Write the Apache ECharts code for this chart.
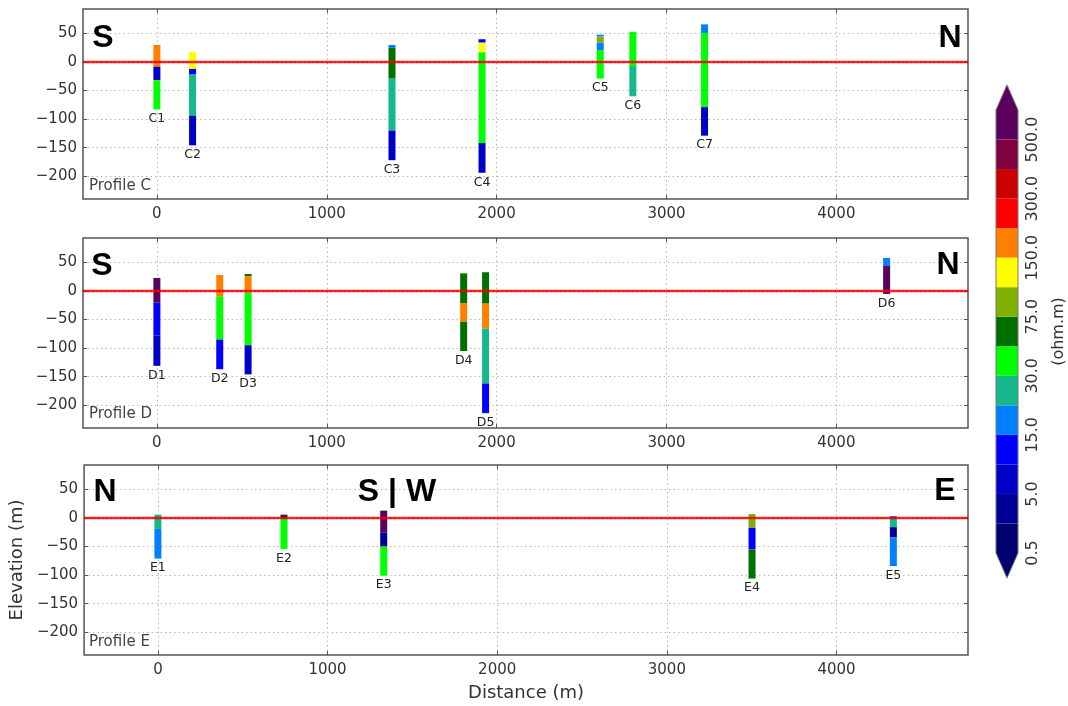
<!DOCTYPE html>
<html><head><meta charset="utf-8">
<script src="https://cdn.jsdelivr.net/npm/echarts@6/dist/echarts.min.js"></script>
<style>html,body{margin:0;padding:0;background:#fff}#chart{width:1068px;height:706px}</style>
</head><body><div id="chart"></div>
<script>
// ---------- data ----------
const xLimits = [-435, 4775];
const yLimits = [-240, 93];
const xTicks = [0, 1000, 2000, 3000, 4000];
const yTicks = [-200, -150, -100, -50, 0, 50];
const colorbarTickIndex = [0, 2, 4, 6, 8, 10, 12, 14];
const colorbarTickLabels = ['0.5', '5.0', '15.0', '30.0', '75.0', '150.0', '300.0', '500.0'];
// resistivity classes, low -> high
const classColors = ['#00006e', '#000098', '#0000c8', '#0000ff', '#0080ff', '#14b88a', '#00ff00',
  '#007000', '#80b000', '#ffff00', '#ff8000', '#ff0000', '#cc0000', '#800040', '#5a005f'];

const profileC_names = ['C1', 'C2', 'C3', 'C4', 'C5', 'C6', 'C7'];
const profileC_dist = [0, 210, 1384, 1914, 2610, 2802, 3224];
const profileC_bounds = [
  [30, -8, -32, -83],
  [18, -12, -22, -94, -146],
  [30, 25, -29, -120, -172],
  [40, 34, 17, -142, -194],
  [48, 45, 34, 21, -29],
  [53, -7, -60],
  [66, 51, -79, -129]
];
const profileC_classes = [
  [10, 2, 6],
  [9, 3, 5, 2],
  [4, 7, 5, 2],
  [3, 9, 6, 2],
  [4, 8, 4, 6],
  [6, 5],
  [4, 6, 2]
];

const profileD_names = ['D1', 'D2', 'D3', 'D4', 'D5', 'D6'];
const profileD_dist = [0, 370, 537, 1806, 1935, 4296];
const profileD_bounds = [
  [23, -20, -78, -131],
  [28, -10, -85, -137],
  [30, 26, -3, -95, -146],
  [31, -21, -54, -105],
  [33, -22, -66, -162, -214],
  [58, 44, -5]
];
const profileD_classes = [
  [14, 3, 2],
  [10, 6, 3],
  [7, 10, 6, 2],
  [7, 10, 7],
  [7, 10, 5, 3],
  [4, 14]
];

const profileE_names = ['E1', 'E2', 'E3', 'E4', 'E5'];
const profileE_dist = [0, 743, 1331, 3502, 4335];
const profileE_bounds = [
  [6, -19, -71],
  [6, -1, -54],
  [13, -25, -50, -101],
  [7, -17, -55, -106],
  [3, 0, -16, -34, -84]
];
const profileE_classes = [
  [5, 4],
  [14, 6],
  [14, 1, 6],
  [8, 3, 7],
  [3, 5, 1, 4]
];

// ---------- chart ----------
const FONT = '"DejaVu Sans", sans-serif';
const grids = [
  {left: 83, top: 9, width: 885, height: 190},
  {left: 83, top: 238, width: 885, height: 190},
  {left: 83, top: 465, width: 885, height: 190}
];
const fmtNum = v => (v < 0 ? '\u2212' + Math.abs(v) : String(v));
const tickStyle = {color: '#555'};

const xAxes = [], yAxes = [], series = [];
grids.forEach((g, gi) => {
  xAxes.push({
    type: 'value', gridIndex: gi, min: xLimits[0], max: xLimits[1], position: 'bottom',
    axisLine: {show: false, onZero: false},
    axisTick: {show: true, inside: true, length: 4, customValues: xTicks, lineStyle: tickStyle},
    axisLabel: {show: true, customValues: xTicks, formatter: fmtNum, fontSize: 15, color: '#333', margin: 8, fontFamily: FONT},
    splitLine: {show: true, lineStyle: {color: '#b8b8b8', type: [1.5, 3], width: 1}},
    name: gi === 2 ? 'Distance (m)' : '', nameLocation: 'middle', nameGap: 29,
    nameTextStyle: {fontSize: 18, color: '#333', fontFamily: FONT}
  });
  xAxes.push({
    type: 'value', gridIndex: gi, min: xLimits[0], max: xLimits[1], position: 'top',
    axisLine: {show: false, onZero: false}, axisLabel: {show: false}, splitLine: {show: false},
    axisTick: {show: true, inside: true, length: 4, customValues: xTicks, lineStyle: tickStyle}
  });
  yAxes.push({
    type: 'value', gridIndex: gi, min: yLimits[0], max: yLimits[1], position: 'left',
    axisLine: {show: false, onZero: false},
    axisTick: {show: true, inside: true, length: 4, customValues: yTicks, lineStyle: tickStyle},
    axisLabel: {show: true, customValues: yTicks, formatter: fmtNum, fontSize: 15, color: '#333', margin: 6, fontFamily: FONT},
    splitLine: {show: true, lineStyle: {color: '#b8b8b8', type: [1.5, 3], width: 1}},
    name: gi === 2 ? 'Elevation (m)' : '', nameLocation: 'middle', nameGap: 56, nameRotate: 90,
    nameTextStyle: {fontSize: 18, color: '#333', fontFamily: FONT}
  });
  yAxes.push({
    type: 'value', gridIndex: gi, min: yLimits[0], max: yLimits[1], position: 'right',
    axisLine: {show: false, onZero: false}, axisLabel: {show: false}, splitLine: {show: false},
    axisTick: {show: true, inside: true, length: 4, customValues: yTicks, lineStyle: tickStyle}
  });
});

function boreholeSeries(gi, names, dist, bounds, classes) {
  return {
    type: 'custom', xAxisIndex: gi * 2, yAxisIndex: gi * 2, clip: false, z: 3,
    data: dist.map((d, i) => [d, bounds[i][0], bounds[i][bounds[i].length - 1]]),
    encode: {x: 0, y: [1, 2]},
    renderItem: (params, api) => {
      const i = params.dataIndex;
      const b = bounds[i], c = classes[i];
      const x = api.value(0);
      const children = [];
      for (let k = 0; k < c.length; k++) {
        const p1 = api.coord([x, b[k]]);
        const p2 = api.coord([x, b[k + 1]]);
        children.push({type: 'rect', shape: {x: p1[0] - 3.5, y: p1[1], width: 7, height: p2[1] - p1[1]},
          style: {fill: classColors[c[k]]}});
      }
      const pb = api.coord([x, b[b.length - 1]]);
      children.push({type: 'text', x: pb[0], y: pb[1] + 3,
        style: {text: names[i], fill: '#222', font: '12.5px ' + FONT, align: 'center', verticalAlign: 'top'}});
      return {type: 'group', children};
    }
  };
}
series.push(boreholeSeries(0, profileC_names, profileC_dist, profileC_bounds, profileC_classes));
series.push(boreholeSeries(1, profileD_names, profileD_dist, profileD_bounds, profileD_classes));
series.push(boreholeSeries(2, profileE_names, profileE_dist, profileE_bounds, profileE_classes));

grids.forEach((g, gi) => {
  series.push({
    type: 'line', xAxisIndex: gi * 2, yAxisIndex: gi * 2, z: 4, silent: true,
    data: [[xLimits[0], 0], [xLimits[1], 0]], symbol: 'none',
    lineStyle: {color: '#ff0000', width: 2.5, opacity: 0.85}
  });
  series.push({
    type: 'line', xAxisIndex: gi * 2, yAxisIndex: gi * 2, z: 5, silent: true,
    data: [[xLimits[0], 0], [xLimits[1], 0]], symbol: 'none',
    lineStyle: {color: '#700', width: 0.8, type: [1.5, 3], opacity: 0.7}
  });
});

// colorbar grid
grids.push({left: 996, top: 110, width: 22, height: 443});
xAxes.push({type: 'value', gridIndex: 3, min: 0, max: 1, show: false});
yAxes.push({
  type: 'value', gridIndex: 3, min: 0, max: classColors.length, position: 'right',
  axisLine: {show: false, onZero: false}, axisTick: {show: false}, splitLine: {show: false},
  axisLabel: {show: true, customValues: colorbarTickIndex, rotate: 90, margin: 7, fontSize: 16, color: '#333', fontFamily: FONT,
    formatter: v => colorbarTickLabels[colorbarTickIndex.indexOf(v)]},
  name: '(ohm.m)', nameLocation: 'middle', nameRotate: 90, nameGap: 33,
  nameTextStyle: {fontSize: 16, color: '#333', fontFamily: FONT, verticalAlign: 'top'}
});
const EXT = 0.85;
series.push({
  type: 'custom', xAxisIndex: 6, yAxisIndex: 6, clip: false, z: 3,
  data: classColors.map((c, i) => [i]),
  encode: {y: 0},
  renderItem: (params, api) => {
    const i = api.value(0);
    const n = classColors.length;
    const fill = classColors[i];
    const p0 = api.coord([0, i]);
    const p1 = api.coord([1, i + 1]);
    const children = [{type: 'rect', shape: {x: p0[0], y: p1[1], width: p1[0] - p0[0], height: p0[1] - p1[1]},
      style: {fill}}];
    if (i === 0) {
      children.push({type: 'polygon', shape: {points: [api.coord([0, 0]), api.coord([1, 0]), api.coord([0.5, -EXT])]}, style: {fill}});
    }
    if (i === n - 1) {
      children.push({type: 'polygon', shape: {points: [api.coord([0, n]), api.coord([1, n]), api.coord([0.5, n + EXT])]}, style: {fill}});
    }
    return {type: 'group', children};
  }
});
series.push({
  type: 'custom', xAxisIndex: 6, yAxisIndex: 6, clip: false, z: 4, silent: true,
  data: [[0]], encode: {y: 0},
  renderItem: (params, api) => {
    const n = classColors.length;
    return {type: 'polygon', shape: {points: [api.coord([0.5, -EXT]), api.coord([0, 0]), api.coord([0, n]),
      api.coord([0.5, n + EXT]), api.coord([1, n]), api.coord([1, 0])]},
      style: {fill: 'none', stroke: '#777', lineWidth: 1}};
  }
});

const bigFont = 'bold 32px "Liberation Sans", sans-serif';
const labelFont = '15px ' + FONT;
const txt = (text, x, y, font, align, fill) => ({type: 'text', x, y, z: 10,
  style: {text, font, fill: fill || '#000', align: align || 'center', verticalAlign: 'middle'}});
const graphics = [
  txt('S', 103, 38, bigFont), txt('N', 950, 38, bigFont),
  txt('S', 102, 266, bigFont), txt('N', 948, 265, bigFont),
  txt('N', 105, 492, bigFont), txt('S | W', 397, 492, bigFont), txt('E', 945, 491, bigFont),
  txt('Profile C', 89, 186, labelFont, 'left', '#444'),
  txt('Profile D', 89, 414, labelFont, 'left', '#444'),
  txt('Profile E', 89, 642, labelFont, 'left', '#444')
];

const chart = echarts.init(document.getElementById('chart'), null, {renderer: 'canvas'});
chart.setOption({
  animation: false,
  backgroundColor: '#fff',
  textStyle: {fontFamily: FONT},
  grid: grids.map((g, i) => Object.assign({show: i < 3, borderColor: '#555', borderWidth: 1.5, backgroundColor: 'transparent'}, g)),
  xAxis: xAxes,
  yAxis: yAxes,
  series,
  graphic: graphics
});
</script></body></html>
